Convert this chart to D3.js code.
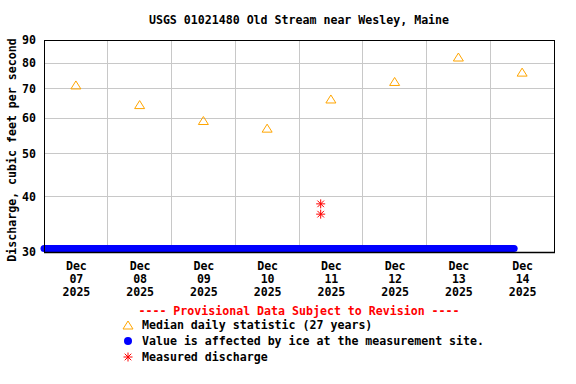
<!DOCTYPE html>
<html><head><meta charset="utf-8">
<script src="https://cdn.jsdelivr.net/npm/d3@7"></script>
<style>
body{margin:0;background:#fff;}
text{font-family:"DejaVu Sans Mono",monospace;font-weight:bold;font-size:11.6px;}
</style></head>
<body><svg id="c" width="576" height="384"></svg>
<script>
const title = "USGS 01021480 Old Stream near Wesley, Maine";
const yLabel = "Discharge, cubic feet per second";
const yTicks = [30, 40, 50, 60, 70, 80, 90];
const dayLabels = ["2025-12-07","2025-12-08","2025-12-09","2025-12-10","2025-12-11","2025-12-12","2025-12-13","2025-12-14"];
const medianDates = ["2025-12-07T12:00","2025-12-08T12:00","2025-12-09T12:00","2025-12-10T12:00","2025-12-11T12:00","2025-12-12T12:00","2025-12-13T12:00","2025-12-14T12:00"];
const medianValues = [71.3, 64.4, 59.3, 57.0, 66.3, 72.6, 82.4, 76.2];
const measuredDates = ["2025-12-11T08:10","2025-12-11T08:10"];
const measuredValues = [38.5, 36.5];
const iceDates = ["2025-12-07T00:00","2025-12-14T09:00"];
const iceValues = [30.55, 30.55];
const legendItems = ["Median daily statistic (27 years)","Value is affected by ice at the measurement site.","Measured discharge"];

const parse = d3.timeParse("%Y-%m-%dT%H:%M");
const parseDay = d3.timeParse("%Y-%m-%d");
const svg = d3.select("#c");
const L=44, R=554, T=40, B=252;
const x = d3.scaleTime().domain([parseDay("2025-12-07"), parseDay("2025-12-15")]).range([L,R]);
const y = d3.scaleLog().domain([30,90]).range([B,T]);

// grid
const gridDays = d3.timeDay.range(parseDay("2025-12-08"), parseDay("2025-12-15"));
svg.append("g").selectAll("line").data(gridDays).join("line")
  .attr("x1",d=>x(d)).attr("x2",d=>x(d)).attr("y1",T).attr("y2",B)
  .attr("stroke","#c8c8c8").attr("stroke-width",1).attr("shape-rendering","crispEdges");
svg.append("g").selectAll("line").data(yTicks.slice(1,-1)).join("line")
  .attr("x1",L).attr("x2",R).attr("y1",d=>Math.round(y(d))+0.5).attr("y2",d=>Math.round(y(d))+0.5)
  .attr("stroke","#c8c8c8").attr("stroke-width",1);

// ice band
const iceData = iceDates.map((d,i)=>({t:parse(d), v:iceValues[i]}));
svg.append("path").datum(iceData)
  .attr("d", d3.line().x(d=>x(d.t)).y(d=>y(d.v)))
  .attr("stroke","#0000ff").attr("stroke-width",7).attr("stroke-linecap","round").attr("fill","none");

// frame
svg.append("rect").attr("x",L+0.5).attr("y",T+0.5).attr("width",R-L).attr("height",B-T)
  .attr("fill","none").attr("stroke","#000").attr("stroke-width",1);
svg.append("line").attr("x1",L).attr("x2",R+1).attr("y1",B+0.5).attr("y2",B+0.5).attr("stroke","#000").attr("stroke-width",1.5);

// y axis
const yAxis = d3.axisLeft(y).tickValues(yTicks).tickFormat(d3.format("d")).tickSize(0).tickPadding(8);
const ya = svg.append("g").attr("transform",`translate(${L},0)`).call(yAxis);
ya.select(".domain").remove();
ya.selectAll("text").attr("font-size",null).attr("font-family",null).attr("fill","#000");

// x axis labels
const fmtMon = d3.timeFormat("%b"), fmtDay = d3.timeFormat("%d"), fmtYr = d3.timeFormat("%Y");
const xAxis = d3.axisBottom(x).tickValues(medianDates.map(parse)).tickSize(0).tickFormat("");
const xa = svg.append("g").attr("transform",`translate(0,${B})`).call(xAxis);
xa.select(".domain").remove();
xa.selectAll(".tick").each(function(d){
  const g = d3.select(this);
  [fmtMon(d), fmtDay(d), fmtYr(d)].forEach((s,i)=>{
    g.append("text").attr("y",18+i*13).attr("text-anchor","middle").attr("fill","#000").text(s);
  });
});

// title
svg.append("text").attr("x",(L+R)/2).attr("y",24).attr("text-anchor","middle").text(title);
// y label
svg.append("text").attr("transform",`translate(16,${(T+B)/2+4}) rotate(-90)`).attr("text-anchor","middle").text(yLabel);

// symbols
function tri(g, cx, cy){
  g.append("path").attr("d",`M${cx-5},${cy+4}L${cx},${cy-4}L${cx+5},${cy+4}Z`)
   .attr("fill","none").attr("stroke","#ffa500").attr("stroke-width",1);
}
function star(g, cx, cy){
  const r=4.5, r2=3.3;
  g.append("path").attr("d",`M${cx},${cy-r}V${cy+r}M${cx-r},${cy}H${cx+r}M${cx-r2},${cy-r2}L${cx+r2},${cy+r2}M${cx-r2},${cy+r2}L${cx+r2},${cy-r2}`)
   .attr("stroke","#ff0000").attr("stroke-width",1).attr("fill","none");
}
const marks = svg.append("g");
medianDates.forEach((d,i)=>tri(marks, x(parse(d)), y(medianValues[i])));
measuredDates.forEach((d,i)=>star(marks, x(parse(d)), y(measuredValues[i])));

// legend
svg.append("text").attr("x",299).attr("y",315).attr("text-anchor","middle").attr("fill","#ff0000")
  .text("---- Provisional Data Subject to Revision ----");
const lg = svg.append("g");
const ly = [325, 341, 357];
legendItems.forEach((s,i)=>{
  lg.append("text").attr("x",142).attr("y",ly[i]+4).attr("fill","#000").text(s);
});
tri(lg, 128, ly[0]);
lg.append("circle").attr("cx",128).attr("cy",ly[1]).attr("r",4).attr("fill","#0000ff");
star(lg, 128, ly[2]);
</script></body></html>
